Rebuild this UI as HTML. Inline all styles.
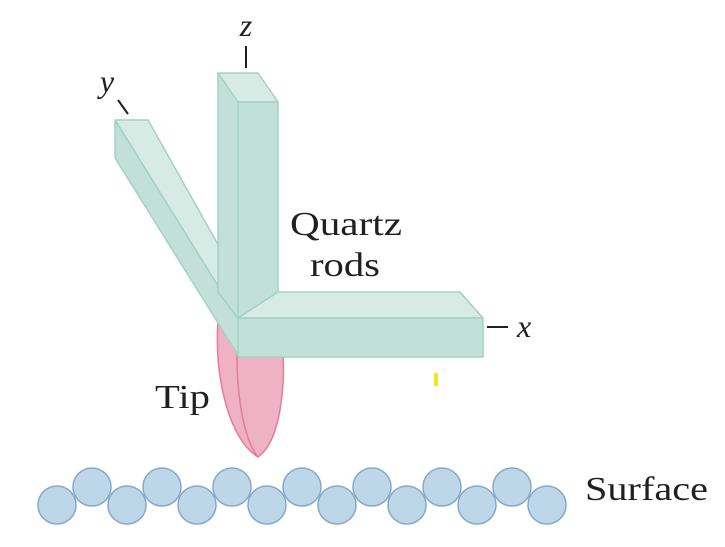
<!DOCTYPE html>
<html><head><meta charset="utf-8"><style>
html,body{margin:0;padding:0;background:#fff;width:725px;height:547px;overflow:hidden}
text{font-family:"Liberation Serif",serif;fill:#231f20}
</style></head><body>
<svg width="725" height="547" viewBox="0 0 725 547">
 <g>
  <path d="M218,320 C214,380 230,440 258,457 C282,440 286,380 282,340 L238,320 Z" fill="#efb1c4" stroke="#e37d9c" stroke-width="1.5"/>
  <path d="M238,335 C234,390 244,440 258,457" fill="none" stroke="#e37d9c" stroke-width="1.5"/>
 </g>
 <g stroke="#a2d2c6" stroke-width="1.5" stroke-linejoin="round">
  <polygon points="115,120 148,120 238,280 238,318" fill="#d7ebe5"/>
  <polygon points="115,120 115,158 238,355 238,318" fill="#c3e0d8"/>
 </g>
 <g stroke="#a2d2c6" stroke-width="1.5" stroke-linejoin="round">
  <polygon points="218,73 258,73 278,102 238,102" fill="#d7ebe5"/>
  <polygon points="218,73 238,102 238,318 218,292" fill="#c3e0d8"/>
  <rect x="238" y="102" width="40" height="216" fill="#c3e0d8"/>
 </g>
 <g stroke="#a2d2c6" stroke-width="1.5" stroke-linejoin="round">
  <polygon points="238,318 278,292 460,292 483,318" fill="#d7ebe5"/>
  <rect x="238" y="318" width="245" height="39" fill="#c3e0d8"/>
 </g>
 <g stroke="#231f20" stroke-width="2">
  <line x1="246" y1="46" x2="246" y2="68"/>
  <line x1="118" y1="100" x2="128" y2="114"/>
  <line x1="487" y1="327" x2="508" y2="327"/>
 </g>
 <rect x="434" y="373" width="4" height="13" fill="#f5e51a"/>
 <g fill="#bdd7e8" stroke="#86a9ca" stroke-width="1.5">
  <circle cx="92" cy="487" r="19"/><circle cx="162" cy="487" r="19"/><circle cx="232" cy="487" r="19"/><circle cx="302" cy="487" r="19"/><circle cx="372" cy="487" r="19"/><circle cx="442" cy="487" r="19"/><circle cx="512" cy="487" r="19"/>
  <circle cx="57" cy="505" r="19"/><circle cx="127" cy="505" r="19"/><circle cx="197" cy="505" r="19"/><circle cx="267" cy="505" r="19"/><circle cx="337" cy="505" r="19"/><circle cx="407" cy="505" r="19"/><circle cx="477" cy="505" r="19"/><circle cx="547" cy="505" r="19"/>
 </g>
 <text x="246" y="36" font-size="32" font-style="italic" text-anchor="middle">z</text>
 <text x="107" y="92" font-size="32" font-style="italic" text-anchor="middle">y</text>
 <text x="517" y="337" font-size="32" font-style="italic">x</text>
 <text x="290" y="235" font-size="34" textLength="112" lengthAdjust="spacingAndGlyphs">Quartz</text>
 <text x="310" y="276" font-size="34" textLength="70" lengthAdjust="spacingAndGlyphs">rods</text>
 <text x="155" y="408" font-size="34" textLength="55" lengthAdjust="spacingAndGlyphs">Tip</text>
 <text x="585" y="500" font-size="34" textLength="123" lengthAdjust="spacingAndGlyphs">Surface</text>
</svg>
</body></html>
